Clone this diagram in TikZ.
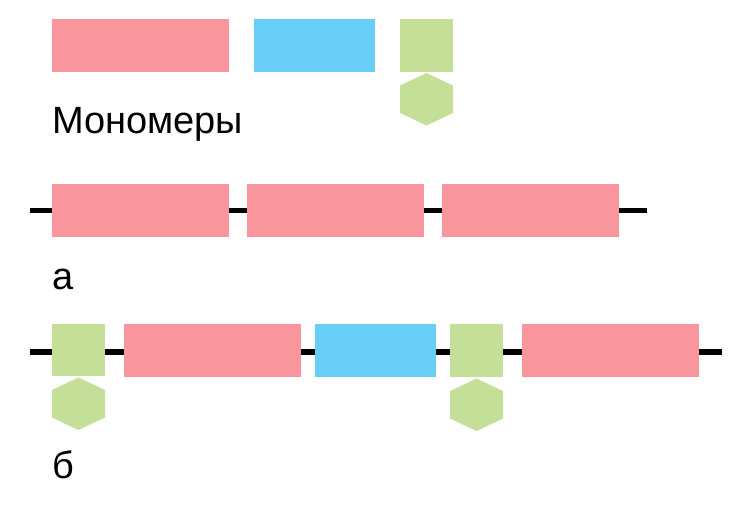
\documentclass[tikz,border=0pt]{standalone}
\usepackage{fontspec}
\setmainfont{Liberation Sans}
\definecolor{pinkm}{RGB}{249,149,156}
\definecolor{bluem}{RGB}{104,205,247}
\definecolor{greenm}{RGB}{196,223,152}
\tikzset{
  mono/.style={inner sep=0pt, outer sep=0pt, draw=none, anchor=north west, minimum height=53pt},
  pinkbox/.style={mono, fill=pinkm, minimum width=177pt},
  bluebox/.style={mono, fill=bluem, minimum width=121pt},
  greenbox/.style={mono, fill=greenm, minimum width=53pt},
  chain/.style={line width=5.6pt, black},
  lbl/.style={inner sep=0pt, anchor=base west, font=\fontsize{38}{45}\selectfont},
  hexm/.pic={\fill[greenm] (26.5,0) -- (53,12.5) -- (53,40) -- (26.5,52.5) -- (0,40) -- (0,12.5) -- cycle;}
}
\begin{document}
\begin{tikzpicture}[x=1pt,y=-1pt]
\useasboundingbox (0,0) rectangle (750,509);
% monomers
\node[pinkbox] (mp) at (52,19) {};
\node[bluebox] (mb) at (254,19) {};
\node[greenbox] (mg) at (400,19) {};
\pic at (400,73) {hexm};
\node[lbl] (tm) at (52,133) {Мономеры};
% row a
\coordinate (as) at (30,210.5);
\coordinate (ae) at (647,210.5);
\node[pinkbox] (a1) at (52,184) {};
\node[pinkbox] (a2) at (247,184) {};
\node[pinkbox] (a3) at (442,184) {};
\draw[chain] (as) -- (as -| a1.west);
\draw[chain] (as -| a1.east) -- (as -| a2.west);
\draw[chain] (as -| a2.east) -- (as -| a3.west);
\draw[chain] (as -| a3.east) -- (ae);
\node[lbl] (ta) at (52,289) {а};
% row b
\coordinate (bs) at (30,352);
\coordinate (be) at (722,352);
\node[greenbox, minimum height=52.5pt] (b1) at (52,323.5) {};
\pic at (52,377.5) {hexm};
\node[pinkbox] (b2) at (124,323.5) {};
\node[bluebox] (b3) at (315,323.5) {};
\node[greenbox, minimum height=52.5pt] (b4) at (450,324) {};
\pic at (450,378.5) {hexm};
\node[pinkbox] (b5) at (522,323.5) {};
\draw[chain] (bs) -- (bs -| b1.west);
\draw[chain] (bs -| b1.east) -- (bs -| b2.west);
\draw[chain] (bs -| b2.east) -- (bs -| b3.west);
\draw[chain] (bs -| b3.east) -- (bs -| b4.west);
\draw[chain] (bs -| b4.east) -- (bs -| b5.west);
\draw[chain] (bs -| b5.east) -- (be);
\node[lbl] (tb) at (52,478) {б};
\end{tikzpicture}
\end{document}
